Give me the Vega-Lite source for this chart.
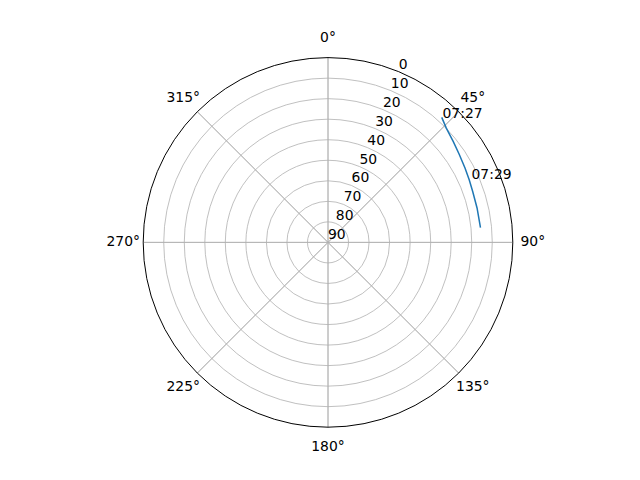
{
  "$schema": "https://vega.github.io/schema/vega-lite/v6.json",
  "width": 369.6,
  "height": 369.6,
  "autosize": "none",
  "padding": {"left": 143.2, "top": 57.6, "right": 127.2, "bottom": 52.8},
  "background": "white",
  "datasets": {
    "rings": [
      {"el": 10}, {"el": 20}, {"el": 30}, {"el": 40},
      {"el": 50}, {"el": 60}, {"el": 70}, {"el": 80}
    ],
    "outer": [{"el": 0}],
    "spokes": [
      {"az": 0}, {"az": 45}, {"az": 90}, {"az": 135},
      {"az": 180}, {"az": 225}, {"az": 270}, {"az": 315}
    ],
    "radlabels": [
      {"el": 0, "label": "0"}, {"el": 10, "label": "10"}, {"el": 20, "label": "20"},
      {"el": 30, "label": "30"}, {"el": 40, "label": "40"}, {"el": 50, "label": "50"},
      {"el": 60, "label": "60"}, {"el": 70, "label": "70"}, {"el": 80, "label": "80"},
      {"el": 90, "label": "90"}
    ],
    "anglabels": [
      {"az": 0, "label": "0°"}, {"az": 45, "label": "45°"}, {"az": 90, "label": "90°"},
      {"az": 135, "label": "135°"}, {"az": 180, "label": "180°"}, {"az": 225, "label": "225°"},
      {"az": 270, "label": "270°"}, {"az": 315, "label": "315°"}
    ],
    "track": [
      {"az": 42.3, "el": 7.7},
      {"az": 46.0, "el": 9.9},
      {"az": 51.2, "el": 11.7},
      {"az": 56.0, "el": 13.0},
      {"az": 61.6, "el": 14.1},
      {"az": 66.2, "el": 14.8},
      {"az": 70.7, "el": 15.3},
      {"az": 77.0, "el": 15.5},
      {"az": 84.5, "el": 15.4}
    ],
    "times": [
      {"az": 42.7, "el": 7.75, "label": "07:27"},
      {"az": 66.2, "el": 13.6, "label": "07:29"}
    ]
  },
  "config": {
    "view": {"stroke": null},
    "text": {"font": "DejaVu Sans", "fontSize": 13.9, "color": "black"}
  },
  "layer": [
    {
      "data": {"name": "rings"},
      "mark": {"type": "arc", "theta": 0, "theta2": 6.2832, "filled": false, "stroke": "#b0b0b0", "strokeWidth": 0.8},
      "encoding": {
        "radius": {"field": "el", "type": "quantitative", "stack": null, "scale": {"type": "linear", "domain": [90, 0], "range": [0, 184.8]}}
      }
    },
    {
      "data": {"name": "spokes"},
      "mark": {"type": "arc", "filled": false, "stroke": "#b0b0b0", "strokeWidth": 0.8},
      "encoding": {
        "theta": {"field": "az", "type": "quantitative", "stack": null, "scale": {"type": "linear", "domain": [0, 360], "range": [0, 6.283185307]}},
        "theta2": {"field": "az"},
        "radius": {"datum": 0, "type": "quantitative", "stack": null, "scale": {"type": "linear", "domain": [90, 0], "range": [0, 184.8]}},
        "radius2": {"datum": 90}
      }
    },
    {
      "data": {"name": "track"},
      "transform": [
        {"calculate": "(90 - datum.el) * sin(datum.az * PI / 180)", "as": "px"},
        {"calculate": "(90 - datum.el) * cos(datum.az * PI / 180)", "as": "py"}
      ],
      "mark": {"type": "line", "color": "#1f77b4", "strokeWidth": 1.5},
      "encoding": {
        "x": {"field": "px", "type": "quantitative", "scale": {"domain": [-90, 90]}, "axis": null},
        "y": {"field": "py", "type": "quantitative", "scale": {"domain": [-90, 90]}, "axis": null},
        "order": {"field": "az"}
      }
    },
    {
      "data": {"name": "outer"},
      "mark": {"type": "arc", "theta": 0, "theta2": 6.2832, "filled": false, "stroke": "black", "strokeWidth": 1},
      "encoding": {
        "radius": {"field": "el", "type": "quantitative", "stack": null, "scale": {"type": "linear", "domain": [90, 0], "range": [0, 184.8]}}
      }
    },
    {
      "data": {"name": "radlabels"},
      "mark": {"type": "text", "align": "left", "baseline": "alphabetic", "dy": -3},
      "encoding": {
        "theta": {"datum": 22.5, "type": "quantitative", "stack": null, "scale": {"type": "linear", "domain": [0, 360], "range": [0, 6.283185307]}},
        "radius": {"field": "el", "type": "quantitative", "stack": null, "scale": {"type": "linear", "domain": [90, 0], "range": [0, 184.8]}},
        "text": {"field": "label"}
      }
    },
    {
      "data": {"name": "anglabels"},
      "mark": {"type": "text", "align": "center", "baseline": "middle", "radiusOffset": 20},
      "encoding": {
        "theta": {"field": "az", "type": "quantitative", "stack": null, "scale": {"type": "linear", "domain": [0, 360], "range": [0, 6.283185307]}},
        "radius": {"datum": 0, "type": "quantitative", "stack": null, "scale": {"type": "linear", "domain": [90, 0], "range": [0, 184.8]}},
        "text": {"field": "label"}
      }
    },
    {
      "data": {"name": "times"},
      "mark": {"type": "text", "align": "left", "baseline": "alphabetic"},
      "encoding": {
        "theta": {"field": "az", "type": "quantitative", "stack": null, "scale": {"type": "linear", "domain": [0, 360], "range": [0, 6.283185307]}},
        "radius": {"field": "el", "type": "quantitative", "stack": null, "scale": {"type": "linear", "domain": [90, 0], "range": [0, 184.8]}},
        "text": {"field": "label"}
      }
    }
  ]
}
